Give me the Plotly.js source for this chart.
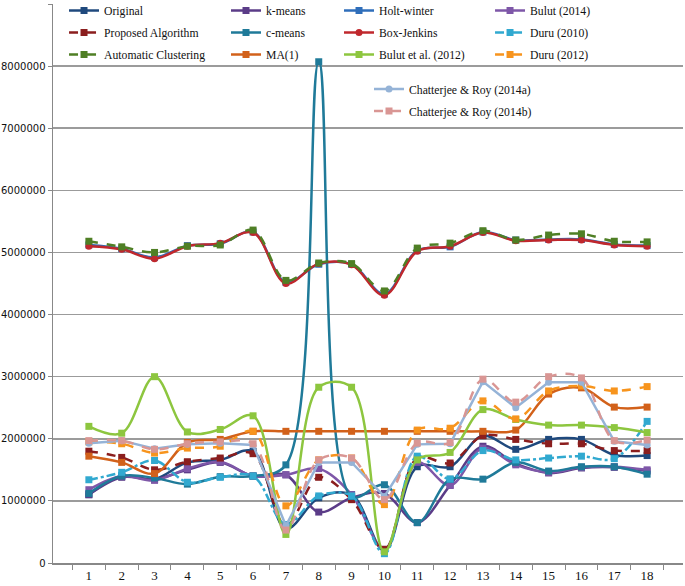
<!DOCTYPE html>
<html><head><meta charset="utf-8">
<script src="https://cdn.plot.ly/plotly-3.0.1.min.js"></script>
<style>html,body{margin:0;padding:0;background:#fff}#chart{width:685px;height:586px}</style>
</head><body><div id="chart"></div>
<script>
const categories = ['1','2','3','4','5','6','7','8','9','10','11','12','13','14','15','16','17','18'];
const yTicks = [0,1e6,2e6,3e6,4e6,5e6,6e6,7e6,8e6,9e6];

const original      = [1.10e6,1.40e6,1.35e6,1.62e6,1.66e6,1.80e6,0.55e6,1.05e6,1.10e6,0.20e6,1.55e6,1.55e6,2.05e6,1.83e6,1.99e6,1.99e6,1.74e6,1.73e6];
const kMeans        = [1.10e6,1.38e6,1.35e6,1.50e6,1.62e6,1.40e6,1.42e6,0.82e6,1.05e6,1.12e6,0.65e6,1.25e6,1.88e6,1.60e6,1.45e6,1.53e6,1.54e6,1.48e6];
const holtWinter    = [5.12e6,5.06e6,4.92e6,5.11e6,5.14e6,5.33e6,4.52e6,4.81e6,4.81e6,4.33e6,5.03e6,5.09e6,5.33e6,5.20e6,5.21e6,5.21e6,5.13e6,5.11e6];
const bulut2014     = [1.18e6,1.40e6,1.33e6,1.52e6,1.63e6,1.40e6,1.42e6,1.52e6,1.10e6,0.22e6,1.62e6,1.25e6,1.85e6,1.58e6,1.46e6,1.54e6,1.55e6,1.50e6];
const proposed      = [1.80e6,1.70e6,1.50e6,1.63e6,1.69e6,1.76e6,0.60e6,1.38e6,1.02e6,0.22e6,1.69e6,1.61e6,2.05e6,1.99e6,1.92e6,1.92e6,1.81e6,1.81e6];
const cMeans        = [1.12e6,1.40e6,1.37e6,1.27e6,1.39e6,1.40e6,1.58e6,8.07e6,1.07e6,1.26e6,0.65e6,1.35e6,1.35e6,1.62e6,1.48e6,1.55e6,1.55e6,1.43e6];
const boxJenkins    = [5.10e6,5.05e6,4.90e6,5.10e6,5.15e6,5.32e6,4.50e6,4.82e6,4.80e6,4.31e6,5.02e6,5.10e6,5.32e6,5.19e6,5.20e6,5.20e6,5.12e6,5.10e6];
const duru2010      = [1.34e6,1.46e6,1.65e6,1.30e6,1.38e6,1.40e6,0.62e6,1.08e6,1.08e6,0.15e6,1.72e6,1.35e6,1.81e6,1.66e6,1.69e6,1.72e6,1.68e6,2.28e6];
const autoCluster   = [5.18e6,5.09e6,5.00e6,5.10e6,5.12e6,5.36e6,4.55e6,4.83e6,4.82e6,4.38e6,5.07e6,5.15e6,5.35e6,5.20e6,5.28e6,5.30e6,5.18e6,5.17e6];
const ma1           = [1.72e6,1.62e6,1.44e6,1.94e6,1.99e6,2.12e6,2.12e6,2.12e6,2.12e6,2.12e6,2.12e6,2.12e6,2.12e6,2.14e6,2.72e6,2.82e6,2.51e6,2.51e6];
const bulut2012     = [2.20e6,2.09e6,3.00e6,2.11e6,2.15e6,2.37e6,0.46e6,2.83e6,2.83e6,0.18e6,1.66e6,1.78e6,2.47e6,2.31e6,2.22e6,2.22e6,2.18e6,2.10e6];
const duru2012      = [1.95e6,1.92e6,1.77e6,1.85e6,1.88e6,2.12e6,0.92e6,1.66e6,1.69e6,0.94e6,2.14e6,2.17e6,2.61e6,2.32e6,2.77e6,2.85e6,2.77e6,2.84e6];
const chatterjeeA   = [1.93e6,1.97e6,1.84e6,1.91e6,1.93e6,1.90e6,0.60e6,1.62e6,1.62e6,1.07e6,1.91e6,1.92e6,2.92e6,2.50e6,2.91e6,2.91e6,1.96e6,1.90e6];
const chatterjeeB   = [1.97e6,1.97e6,1.83e6,1.92e6,1.95e6,1.92e6,0.53e6,1.66e6,1.69e6,1.02e6,1.93e6,1.94e6,2.96e6,2.59e6,3.00e6,2.98e6,1.97e6,1.98e6];

const seriesDefs = [
  {name:'Original', y:original, color:'#1F497D', dash:'solid', symbol:'square', shape:'spline', legend:'legend'},
  {name:'k-means', y:kMeans, color:'#5B3C88', dash:'solid', symbol:'square', shape:'spline', legend:'legend2'},
  {name:'Holt-winter', y:holtWinter, color:'#2F6EBA', dash:'solid', symbol:'square', shape:'spline', legend:'legend3'},
  {name:'Bulut (2014)', y:bulut2014, color:'#7E57A8', dash:'solid', symbol:'square', shape:'spline', legend:'legend4'},
  {name:'Proposed Algorithm', y:proposed, color:'#8B1E1E', dash:'dash', symbol:'square', shape:'spline', legend:'legend'},
  {name:'c-means', y:cMeans, color:'#1F7A99', dash:'solid', symbol:'square', shape:'spline', legend:'legend2'},
  {name:'Box-Jenkins', y:boxJenkins, color:'#C0282D', dash:'solid', symbol:'circle', shape:'spline', legend:'legend3'},
  {name:'Duru (2010)', y:duru2010, color:'#31A9D0', dash:'dashdot', symbol:'square', shape:'spline', legend:'legend4'},
  {name:'Automatic Clustering', y:autoCluster, color:'#4F7F25', dash:'dash', symbol:'square', shape:'spline', legend:'legend'},
  {name:'MA(1)', y:ma1, color:'#D2611A', dash:'solid', symbol:'square', shape:'spline', legend:'legend2'},
  {name:'Bulut et al. (2012)', y:bulut2012, color:'#8DC63F', dash:'solid', symbol:'square', shape:'spline', legend:'legend3'},
  {name:'Duru (2012)', y:duru2012, color:'#F7941D', dash:'dash', symbol:'square', shape:'spline', legend:'legend4'},
  {name:'Chatterjee & Roy (2014a)', y:chatterjeeA, color:'#95B3D7', dash:'solid', symbol:'circle', shape:'linear', legend:'legend5'},
  {name:'Chatterjee & Roy (2014b)', y:chatterjeeB, color:'#D99694', dash:'dash', symbol:'square', shape:'spline', legend:'legend5'}
];

const traces = seriesDefs.map((s, i) => ({
  type:'scatter', mode:'lines+markers', name:s.name, x:categories, y:s.y,
  legend:s.legend, legendgroup:'g' + i,
  line:{color:s.color, width:2.5, dash:s.dash, shape:s.shape, smoothing:1},
  marker:{color:s.color, symbol:s.symbol, size:7}
}));

const legFont = {family:'Liberation Serif, Times New Roman, serif', size:11.7, color:'#111'};
function leg(x, y){
  return {x:x, y:y, xanchor:'left', yanchor:'top', bgcolor:'rgba(0,0,0,0)', borderwidth:0,
          font:legFont, itemwidth:30, orientation:'v', tracegroupgap:3};
}

const layout = {
  width:685, height:586,
  margin:{l:53, r:2, t:4, b:23, pad:0, autoexpand:false},
  paper_bgcolor:'#fff', plot_bgcolor:'#fff',
  showlegend:true,
  legend: leg(0.0175, 1.0143),
  legend2: leg(0.2746, 1.0143),
  legend3: leg(0.454, 1.0143),
  legend4: leg(0.6937, 1.0143),
  legend5: leg(0.5016, 0.874),
  xaxis:{type:'category', tickson:'boundaries', ticks:'outside', ticklen:5, tickcolor:'#888',
         showline:true, linecolor:'#888', linewidth:1.5, showgrid:false, zeroline:false,
         tickfont:{family:'Liberation Serif, Times New Roman, serif', size:13, color:'#111'}},
  yaxis:{range:[0,9e6], tickvals:yTicks, tickformat:'d', ticks:'outside', ticklen:4, tickcolor:'#888',
         showline:true, linecolor:'#888', linewidth:1.5, showgrid:true, gridcolor:'#9b9b9b', gridwidth:1.5,
         zeroline:false,
         tickfont:{family:'DejaVu Sans, Verdana, sans-serif', size:10, color:'#111'}}
};

Plotly.newPlot('chart', traces, layout, {staticPlot:true, displayModeBar:false});
</script>
</body></html>
